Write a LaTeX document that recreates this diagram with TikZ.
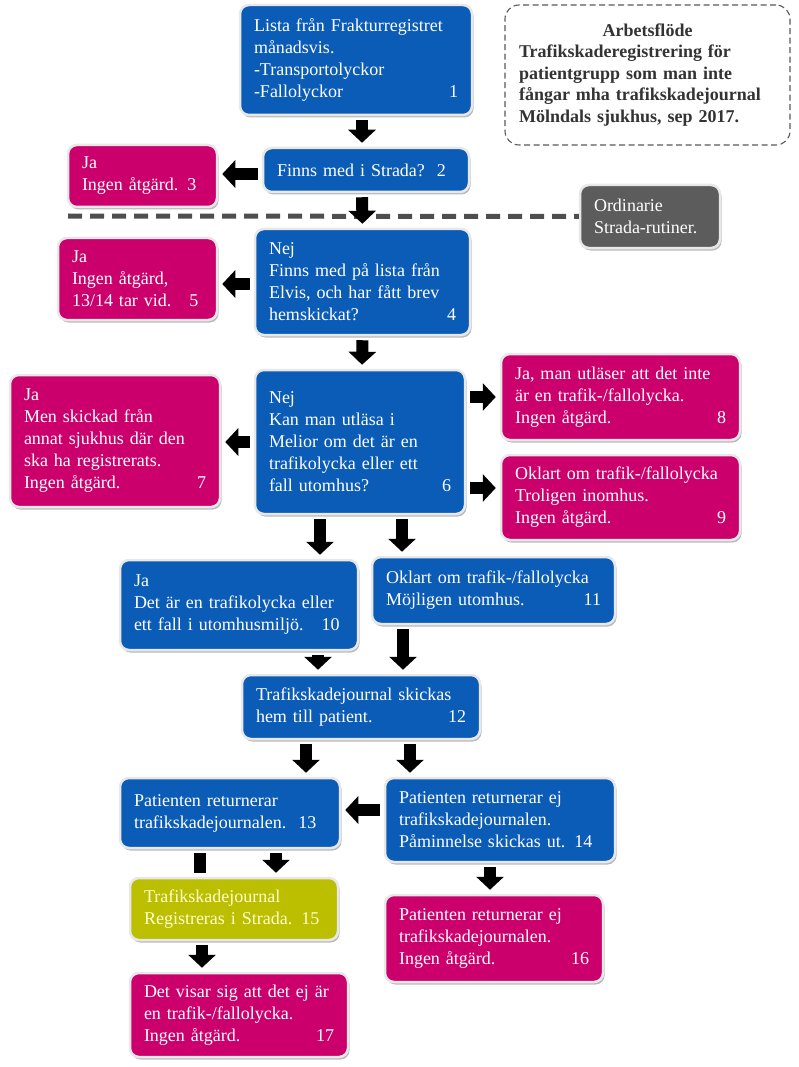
\documentclass[tikz,border=0pt]{standalone}
\usepackage{fontspec}
\setmainfont{Liberation Serif}
\usepackage{xcolor}
\usetikzlibrary{arrows.meta,shadows}

\definecolor{blu}{RGB}{11,92,182}
\definecolor{pnk}{RGB}{204,0,108}
\definecolor{olv}{RGB}{188,190,0}
\definecolor{gry}{RGB}{92,92,92}
\definecolor{sepgray}{RGB}{78,78,78}

\newcommand{\nr}[1]{\nobreak\hskip 0pt plus 1filll\relax #1}

\tikzset{
  box/.style={rounded corners=9pt, draw=black!9, line width=2.5pt, text=white,
    align=left, inner xsep=14pt, inner ysep=3pt,
    font=\fontsize{18}{22}\selectfont,
    drop shadow={shadow xshift=1.5pt, shadow yshift=-2.5pt, fill=black!50, opacity=.55}},
  bluebox/.style={box, fill=blu},
  pinkbox/.style={box, fill=pnk},
  olivebox/.style={box, fill=olv, text={rgb,255:red,255;green,255;blue,205}},
  graybox/.style={box, fill=gry},
  blk/.style={line width=12pt, -{Triangle[width=27pt,length=13pt]}, shorten <=4pt, shorten >=4pt},
  bar/.style={line width=12pt, shorten <=4pt, shorten >=4pt},
  sep/.style={sepgray, line width=5pt, dash pattern=on 14pt off 8pt}
}

\begin{document}
\begin{tikzpicture}[x=1pt, y=-1pt]
  \useasboundingbox (0,0) rectangle (799,1067);

  % title
  \node[rounded corners=14pt, draw=black!65, line width=1.1pt, dash pattern=on 6pt off 3.5pt,
        fill=white, minimum width=285pt, minimum height=140pt, text width=257pt,
        inner xsep=14pt, align=left, text=black!80,
        font=\bfseries\fontsize{18}{21.5}\selectfont] (title) at (647.5,75)
    {\hfill Arbetsflöde\hfill\null\\ Trafikskaderegistrering för\\ patientgrupp som man inte\\ fångar mha trafikskadejournal\\ Mölndals sjukhus, sep 2017.};

  % boxes
  \node[bluebox, minimum width=232pt, minimum height=110pt, text width=204pt] (n1) at (356,60)
    {Lista från Frakturregistret\\ månadsvis.\\ -Transportolyckor\\ -Fallolyckor\nr{1}};
  \node[bluebox, minimum width=206pt, minimum height=44pt, text width=178pt] (n2) at (366,170)
    {Finns med i Strada?~~2};
  \node[pinkbox, minimum width=149pt, minimum height=62pt, text width=121pt] (n3) at (142.5,176)
    {Ja\\ Ingen åtgärd. 3};
  \node[graybox, minimum width=140pt, minimum height=63pt, text width=112pt] (nord) at (650,216.5)
    {Ordinarie\\ Strada-rutiner.};

  \coordinate (dl) at (68,216);
  \draw[sep] (dl) -- (nord.west);

  \node[bluebox, minimum width=215pt, minimum height=106pt, text width=187pt] (n4) at (362.5,282)
    {Nej\\ Finns med på lista från\\ Elvis, och har fått brev\\ hemskickat?\nr{4}};
  \node[pinkbox, minimum width=159pt, minimum height=82pt, text width=131pt] (n5) at (137.5,279)
    {Ja\\ Ingen åtgärd,\\ 13/14 tar vid.~~~5};
  \node[bluebox, minimum width=210pt, minimum height=144pt, text width=182pt] (n6) at (360,442)
    {Nej\\ Kan man utläsa i\\ Melior om det är en\\ trafikolycka eller ett\\ fall utomhus?\nr{6}};
  \node[pinkbox, minimum width=210pt, minimum height=132pt, text width=182pt] (n7) at (115,441)
    {Ja\\ Men skickad från\\ annat sjukhus där den\\ ska ha registrerats.\\ Ingen åtgärd.\nr{7}};
  \node[pinkbox, minimum width=239pt, minimum height=86pt, text width=211pt] (n8) at (620.5,397)
    {Ja, man utläser att det inte\\ är en trafik-/fallolycka.\\ Ingen åtgärd.\nr{8}};
  \node[pinkbox, minimum width=239pt, minimum height=85pt, text width=211pt] (n9) at (620.5,497.5)
    {Oklart om trafik-/fallolycka\\ Troligen inomhus.\\ Ingen åtgärd.\nr{9}};
  \node[bluebox, minimum width=238pt, minimum height=90pt, text width=210pt] (n10) at (239,605)
    {Ja\\ Det är en trafikolycka eller\\ ett fall i utomhusmiljö.~~~10};
  \node[bluebox, minimum width=243pt, minimum height=67pt, text width=215pt] (n11) at (493.5,590.5)
    {Oklart om trafik-/fallolycka\\ Möjligen utomhus.\nr{11}};
  \node[bluebox, minimum width=238pt, minimum height=64pt, text width=210pt] (n12) at (361,707)
    {Trafikskadejournal skickas\\ hem till patient.\nr{12}};
  \node[bluebox, minimum width=220pt, minimum height=70pt, text width=192pt] (n13) at (230,813)
    {Patienten returnerar\\ trafikskadejournalen.~~13};
  \node[bluebox, minimum width=230pt, minimum height=84pt, text width=202pt] (n14) at (500,820)
    {Patienten returnerar ej\\ trafikskadejournalen.\\ Påminnelse skickas ut. 14};
  \node[olivebox, minimum width=208pt, minimum height=62pt, text width=180pt] (n15) at (234,909)
    {Trafikskadejournal\\ Registreras i Strada. 15};
  \node[pinkbox, minimum width=218pt, minimum height=87pt, text width=190pt] (n16) at (494,938.5)
    {Patienten returnerar ej\\ trafikskadejournalen.\\ Ingen åtgärd.\nr{16}};
  \node[pinkbox, minimum width=218pt, minimum height=84pt, text width=190pt] (n17) at (239,1015)
    {Det visar sig att det ej är\\ en trafik-/fallolycka.\\ Ingen åtgärd.\nr{17}};

  % arrows
  \draw[blk] ([xshift=6pt]n1.south) -- ([xshift=-4pt]n2.north);
  \draw[blk] ([yshift=-4pt]n2.west) -- ([yshift=2pt]n3.east);
  \draw[blk] ([xshift=-4pt]n2.south) -- (n4.north);
  \draw[blk] ([yshift=-2pt]n4.west) -- ([yshift=-5pt]n5.east);
  \draw[blk] (n4.south) -- ([xshift=2pt]n6.north);
  \draw[blk] (n6.west) -- ([yshift=-1pt]n7.east);
  \draw[blk] ([yshift=45pt]n6.east) -- (n8.west);
  \draw[blk] ([yshift=-46pt]n6.east) -- ([yshift=9.5pt]n9.west);
  \draw[blk] ([xshift=-40pt]n6.south) -- ([xshift=81pt]n10.north);
  \draw[blk] ([xshift=42pt]n6.south) -- ([xshift=-91.5pt]n11.north);
  \draw[blk] ([xshift=79pt]n10.south) -- ([xshift=-43pt]n12.north);
  \draw[blk] ([xshift=-90.5pt]n11.south) -- ([xshift=42pt]n12.north);
  \draw[blk] ([xshift=-55pt]n12.south) -- ([xshift=76pt]n13.north);
  \draw[blk] ([xshift=49pt]n12.south) -- ([xshift=-90pt]n14.north);
  \draw[blk] ([yshift=10pt]n14.west) -- ([yshift=3pt]n13.east);
  \draw[bar] ([xshift=-30pt]n13.south) -- ([xshift=-34pt]n15.north);
  \draw[blk] ([xshift=46pt]n13.south) -- ([xshift=42pt]n15.north);
  \draw[blk] ([xshift=-32pt]n15.south) -- ([xshift=-37pt]n17.north);
  \draw[blk] ([xshift=-10pt]n14.south) -- ([xshift=-4pt]n16.north);
\end{tikzpicture}
\end{document}
